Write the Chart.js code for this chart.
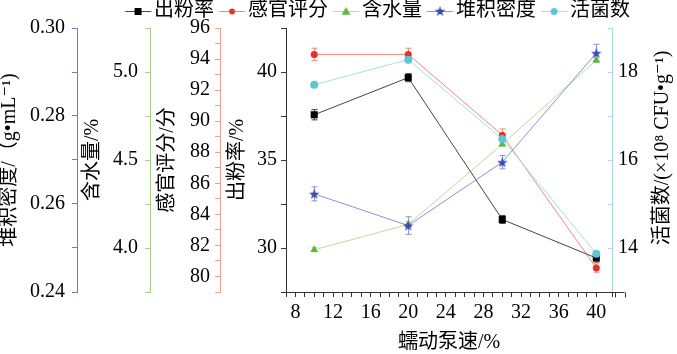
<!DOCTYPE html>
<html>
<head>
<meta charset="utf-8">
<script src="https://cdn.jsdelivr.net/npm/chart.js@4.4.1/dist/chart.umd.min.js"></script>
<style>
  html, body { margin: 0; padding: 0; background: #fff; }
</style>
</head>
<body>
<canvas id="chart" width="677" height="354"></canvas>
<script>
// pump speed (%) on x
const speeds = [10, 20, 30, 40];

// series values + error bars
const yieldRate = [37.57, 39.68, 31.62, 29.43];      // 出粉率 %
const yieldErr = [0.29, 0.23, 0.23, 0.23];
const sensory = [94.3, 94.3, 89.1, 80.54];            // 感官评分
const sensoryErr = [0.4, 0.4, 0.4, 0.27];
const moisture = [3.99, 4.134, 4.59, 5.067];          // 含水量 %
const moistureErr = [0.012, 0.015, 0.012, 0.012];
const density = [0.2623, 0.2551, 0.2695, 0.2943];     // 堆积密度 g/mL
const densityErr = [0.0016, 0.002, 0.0015, 0.002];
const viable = [17.71, 18.28, 16.48, 13.87];          // 活菌数 1e8 CFU/g
const viableErr = [0.05, 0.07, 0.06, 0.05];

const seriesNames = ['出粉率', '感官评分', '含水量', '堆积密度', '活菌数'];
const errs = [yieldErr, sensoryErr, moistureErr, densityErr, viableErr];

// DejaVu Serif sits before the CJK font so superscripts stay narrow
const SERIF = "'Liberation Serif', 'DejaVu Serif', 'Noto Sans CJK SC', serif";
Chart.defaults.font.family = SERIF;
Chart.defaults.font.size = 20;
Chart.defaults.color = '#000';

// colours
const C = {
  yield: '#000000', yieldLine: '#444444',
  sens: '#e8302a', sensLine: '#f08a78', sensAxis: '#f2a08e',
  moist: '#5cb83c', moistLine: '#b8dca0', moistAxis: '#a5d486',
  dens: '#3a4bb0', densLine: '#8c92d4', densAxis: '#6f7cc4',
  viab: '#5cc6d6', viabLine: '#a6dfe8', viabAxis: '#a9d8e6',
  axis: '#333333'
};

// --- marker drawers (shared by points and legend icons) ---
function drawSquare(g, x, y, col) { g.fillStyle = col; g.fillRect(x - 3.5, y - 3.5, 7, 7); }
function drawCircle(g, x, y, col, r) { g.fillStyle = col; g.beginPath(); g.arc(x, y, r, 0, Math.PI * 2); g.fill(); }
function drawTriangle(g, x, y, col) {
  g.fillStyle = col; g.beginPath();
  g.moveTo(x, y - 4.5); g.lineTo(x + 4.5, y + 3.2); g.lineTo(x - 4.5, y + 3.2);
  g.closePath(); g.fill();
}
function drawStar(g, x, y, col) {
  g.fillStyle = col; g.beginPath();
  for (let k = 0; k < 10; k++) {
    const rad = k % 2 ? 2.3 : 5.5;
    const a = -Math.PI / 2 + k * Math.PI / 5;
    g.lineTo(x + rad * Math.cos(a), y + rad * Math.sin(a));
  }
  g.closePath(); g.fill();
}

function makeStarImage() {
  const c = document.createElement('canvas');
  c.width = 12; c.height = 12;
  drawStar(c.getContext('2d'), 6, 6.5, C.dens);
  return c;
}

// legend icon = short line with marker in the middle
function legendIcon(lineCol, marker) {
  const c = document.createElement('canvas');
  c.width = 34; c.height = 12;
  const g = c.getContext('2d');
  g.strokeStyle = lineCol; g.lineWidth = 1;
  g.beginPath(); g.moveTo(7.5, 6.5); g.lineTo(33.5, 6.5); g.stroke();
  marker(g, 20.5, 6.5);
  return c;
}

const icons = [
  legendIcon(C.yieldLine, (g, x, y) => drawSquare(g, x, y, C.yield)),
  legendIcon(C.sensLine, (g, x, y) => drawCircle(g, x, y, C.sens, 3)),
  legendIcon(C.moistLine, (g, x, y) => drawTriangle(g, x, y, C.moist)),
  legendIcon(C.densLine, (g, x, y) => drawStar(g, x, y, C.dens)),
  legendIcon(C.viabLine, (g, x, y) => drawCircle(g, x, y, C.viab, 3.5))
];

const toXY = arr => speeds.map((s, i) => ({ x: s, y: arr[i] }));

// error bars drawn under the lines/markers
const errorBars = {
  id: 'errorBars',
  beforeDatasetsDraw(chart) {
    const ctx = chart.ctx;
    chart.data.datasets.forEach((ds, i) => {
      const meta = chart.getDatasetMeta(i);
      const ys = chart.scales[ds.yAxisID];
      ctx.save();
      ctx.strokeStyle = ds.borderColor;
      ctx.lineWidth = 1;
      meta.data.forEach((pt, j) => {
        const v = ds.data[j].y, e = errs[i][j];
        const t = ys.getPixelForValue(v + e), b = ys.getPixelForValue(v - e);
        const x = Math.round(pt.x) + 0.5;
        ctx.beginPath();
        ctx.moveTo(x, t); ctx.lineTo(x, b);
        ctx.moveTo(x - 3, t); ctx.lineTo(x + 3, t);
        ctx.moveTo(x - 3, b); ctx.lineTo(x + 3, b);
        ctx.stroke();
      });
      ctx.restore();
    });
  }
};

// x axis runs a little past the right axis; right title reads bottom-to-top
const extras = {
  id: 'extras',
  afterLayout(chart) {
    // move the legend row (down 3, left 17) without moving the plot
    const lg = chart.legend;
    lg.top += 3; lg.bottom += 3;
    lg.left -= 17; lg.right -= 17;
  },
  afterDraw(chart) {
    const ctx = chart.ctx, xs = chart.scales.x, area = chart.chartArea;
    const y0 = Math.round(area.bottom) + 0.5;
    ctx.save();
    ctx.strokeStyle = C.axis; ctx.lineWidth = 1;
    ctx.beginPath();
    ctx.moveTo(area.right, y0); ctx.lineTo(xs.getPixelForValue(43), y0);
    [42, 43].forEach(v => {
      const px = Math.round(xs.getPixelForValue(v)) + 0.5;
      ctx.moveTo(px, y0); ctx.lineTo(px, y0 + 5);
    });
    ctx.stroke();

    ctx.translate(area.right + 51, (area.top + area.bottom) / 2 - 12);
    ctx.rotate(-Math.PI / 2);
    ctx.fillStyle = '#000';
    ctx.font = '20px ' + SERIF;
    ctx.textAlign = 'center';
    ctx.textBaseline = 'middle';
    ctx.fillText('活菌数/(×10⁸ CFU•g⁻¹)', 0, 0);
    ctx.restore();
  }
};

function yAxis(opts) {
  return {
    type: 'linear',
    position: opts.position || 'left',
    weight: opts.weight,
    min: opts.min, max: opts.max,
    afterFit: s => { s.width = opts.width; },
    grid: { drawOnChartArea: false, tickLength: opts.tickLength || 5, color: opts.color, tickColor: opts.color },
    border: { color: opts.color, width: 1 },
    ticks: { stepSize: opts.step, padding: opts.pad, callback: opts.label, autoSkip: false },
    title: opts.title ? {
      display: true, text: opts.title,
      font: { size: 20, lineHeight: 1 },
      padding: { top: opts.titlePad, bottom: 0 }
    } : { display: false }
  };
}

new Chart(document.getElementById('chart'), {
  type: 'line',
  data: {
    datasets: [
      { label: seriesNames[0], data: toXY(yieldRate), yAxisID: 'yY', order: 2,
        borderColor: C.yieldLine, backgroundColor: C.yield, borderWidth: 1,
        pointStyle: 'rect', pointRadius: 5, pointBorderWidth: 0 },
      { label: seriesNames[1], data: toXY(sensory), yAxisID: 'yS', order: 3,
        borderColor: C.sensLine, backgroundColor: C.sens, borderWidth: 1,
        pointStyle: 'circle', pointRadius: 3.5, pointBorderWidth: 0 },
      { label: seriesNames[2], data: toXY(moisture), yAxisID: 'yM', order: 4,
        borderColor: C.moistLine, backgroundColor: C.moist, borderWidth: 1,
        pointStyle: 'triangle', pointRadius: 4.5, pointBorderWidth: 0 },
      { label: seriesNames[3], data: toXY(density), yAxisID: 'yD', order: 1,
        borderColor: C.densLine, backgroundColor: C.dens, borderWidth: 1,
        pointStyle: makeStarImage(), pointRadius: 5 },
      { label: seriesNames[4], data: toXY(viable), yAxisID: 'yV', order: 0,
        borderColor: C.viabLine, backgroundColor: C.viab, borderWidth: 1,
        pointStyle: 'circle', pointRadius: 4, pointBorderWidth: 0 }
    ]
  },
  options: {
    responsive: false,
    animation: false,
    layout: { padding: { left: 0, right: 25, top: -7, bottom: 0 } },
    plugins: {
      tooltip: { enabled: false },
      legend: {
        position: 'top',
        align: 'end',
        labels: {
          usePointStyle: true,
          pointStyleWidth: 19,
          padding: 5,
          font: { size: 20 },
          color: '#000',
          sort: (a, b) => a.datasetIndex - b.datasetIndex,
          generateLabels: chart => {
            const items = Chart.defaults.plugins.legend.labels.generateLabels(chart);
            items.forEach(it => { it.pointStyle = icons[it.datasetIndex]; });
            return items;
          }
        }
      }
    },
    scales: {
      x: {
        type: 'linear', position: 'bottom',
        min: 7, max: 41.67,
        afterFit: s => { s.height = 62; },
        grid: { drawOnChartArea: false, tickLength: 5, color: C.axis },
        border: { color: C.axis, width: 1 },
        ticks: { stepSize: 1, autoSkip: false, maxRotation: 0, padding: 4,
                 callback: v => (v % 4 === 0 ? String(v) : '') },
        title: { display: true, text: '蠕动泵速/%', font: { size: 20, lineHeight: 1 },
                 padding: { top: 0, bottom: 1 } }
      },
      yD: yAxis({ weight: 4, width: 77, min: 0.24, max: 0.30, step: 0.01, pad: 7,
                  color: C.densAxis, title: '堆积密度/（g•mL⁻¹)', titlePad: 0,
                  label: v => (Math.round(v * 100) % 2 === 0 ? v.toFixed(2) : '') }),
      yM: yAxis({ weight: 3, width: 73, min: 3.75, max: 5.25, step: 0.25, pad: 7,
                  color: C.moistAxis, title: '含水量/%', titlePad: 6,
                  label: v => (Math.round(v * 100) % 50 === 0 ? v.toFixed(1) : '') }),
      yS: yAxis({ weight: 2, width: 70, min: 79, max: 96, step: 1, pad: 5,
                  color: C.sensAxis, title: '感官评分/分', titlePad: 8,
                  label: v => (v % 2 === 0 ? String(v) : '') }),
      yY: yAxis({ weight: 1, width: 66, min: 27.5, max: 42.5, step: 2.5, pad: 4,
                  color: C.axis, title: '出粉率/%', titlePad: 8,
                  label: v => (v % 5 === 0 ? String(v) : '') }),
      // negative tick length turns the right axis ticks inward, as in the figure
      yV: yAxis({ position: 'right', weight: 1, width: 40, min: 13, max: 19, step: 1, pad: 10,
                  tickLength: -4, color: C.viabAxis,
                  label: v => (v % 2 === 0 ? String(v) : '') })
    }
  },
  plugins: [errorBars, extras]
});
</script>
</body>
</html>
